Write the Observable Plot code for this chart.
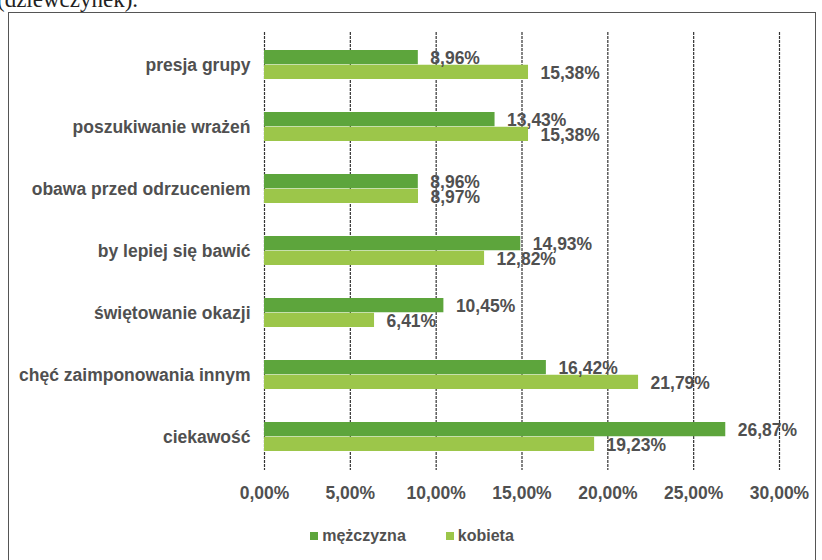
<!DOCTYPE html>
<html>
<head>
<meta charset="utf-8">
<script src="https://cdn.jsdelivr.net/npm/d3@7"></script>
<script src="https://cdn.jsdelivr.net/npm/@observablehq/plot@0.6"></script>
<style>
  html, body { margin: 0; padding: 0; background: #fff; width: 822px; height: 560px; overflow: hidden; }
  #top { position: absolute; left: -3px; top: -13px; font-family: "Liberation Serif", serif; font-size: 23px; color: #222; white-space: nowrap; }
  #frame { position: absolute; left: 8px; top: 12px; width: 806px; height: 560px; border: 1px solid #555; border-bottom: none; background: #fff; }
  #chart { position: absolute; left: 0; top: 0; }
  #legend { position: absolute; left: 0; width: 806px; top: 513px; text-align: center; font-family: "Liberation Sans", Arial, sans-serif; font-weight: bold; font-size: 16px; color: #505050; }
  .item { display: inline-flex; align-items: center; margin: 0 20px; }
  .sw { width: 8px; height: 8px; margin-right: 4px; display: inline-block; }
</style>
</head>
<body>
<div id="top">(dziewczynek).</div>
<div id="frame">
  <div id="chart"></div>
  <div id="legend"></div>
</div>
<script>
const categories = ["presja grupy", "poszukiwanie wrażeń", "obawa przed odrzuceniem", "by lepiej się bawić", "świętowanie okazji", "chęć zaimponowania innym", "ciekawość"];
const seriesNames = ["mężczyzna", "kobieta"];
const maleValues = [8.96, 13.43, 8.96, 14.93, 10.45, 16.42, 26.87];
const femaleValues = [15.38, 15.38, 8.97, 12.82, 6.41, 21.79, 19.23];
const xTicks = [0, 5, 10, 15, 20, 25, 30];
const colors = ["#5da53c", "#9cc64a"];

const fmt = v => v.toFixed(2).replace(".", ",") + "%";
const maleRows = categories.map((c, i) => ({category: c, value: maleValues[i]}));
const femaleRows = categories.map((c, i) => ({category: c, value: femaleValues[i]}));

const half = 14.75;
const font = "Liberation Sans, Arial, sans-serif";

const chart = Plot.plot({
  width: 806,
  height: 500,
  marginLeft: 255,
  marginRight: 36,
  marginTop: 19,
  marginBottom: 43,
  style: {fontFamily: font, fontSize: "17.5px", fontWeight: "bold", color: "#505050", background: "transparent"},
  x: {domain: [0, 30], ticks: xTicks, tickFormat: fmt, tickSize: 0, tickPadding: 16, label: null},
  y: {domain: categories, paddingInner: 0.526, paddingOuter: 0.281, tickSize: 0, tickPadding: 14, label: null},
  marks: [
    Plot.ruleX(xTicks, {stroke: "#333", strokeWidth: 1.2, strokeDasharray: "3,1"}),
    Plot.barX(maleRows, {x: "value", y: "category", fill: colors[0], insetBottom: half}),
    Plot.barX(femaleRows, {x: "value", y: "category", fill: colors[1], insetTop: half}),
    Plot.text(maleRows, {x: "value", y: "category", text: d => fmt(d.value), dx: 12, dy: -7, textAnchor: "start", fill: "#505050", fontSize: 17.5}),
    Plot.text(femaleRows, {x: "value", y: "category", text: d => fmt(d.value), dx: 12, dy: 8, textAnchor: "start", fill: "#505050", fontSize: 17.5})
  ]
});
document.getElementById("chart").appendChild(chart);

const legend = document.getElementById("legend");
seriesNames.forEach((n, i) => {
  const it = document.createElement("span");
  it.className = "item";
  it.innerHTML = `<span class="sw" style="background:${colors[i]}"></span>${n}`;
  legend.appendChild(it);
});
</script>
</body>
</html>
